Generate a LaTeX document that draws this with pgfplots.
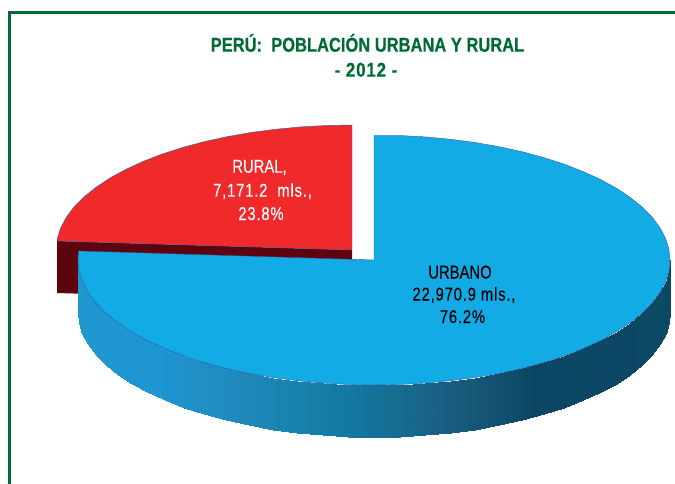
\documentclass[border=0pt]{standalone}
\usepackage{pgfplots}
\pgfplotsset{compat=1.18}
\usepackage{fontspec}
\setmainfont[FakeStretch=0.80,FakeBold=0.25]{Liberation Sans}
\newfontfamily\numf[FakeStretch=0.80,LetterSpace=4.5,FakeBold=0.25]{Liberation Sans}
\newfontfamily\titlef[FakeStretch=0.825,FakeBold=0.4]{Liberation Sans}
\newfontfamily\yearf[FakeStretch=0.85,LetterSpace=4,FakeBold=0.4]{Liberation Sans}
\definecolor{frameg}{HTML}{006B33}
\definecolor{ruralc}{HTML}{F02A2B}
\definecolor{ruraldark}{HTML}{5E040E}
\definecolor{urbanc}{HTML}{13ABE5}
\definecolor{edgec}{HTML}{2C5CA8}
\begin{document}
\begin{tikzpicture}
\useasboundingbox (0,0) rectangle (675pt,484pt);
\begin{axis}[
  at={(0,0)}, anchor=south west,
  scale only axis, width=675pt, height=484pt,
  xmin=0, xmax=675, ymin=0, ymax=484, y dir=reverse,
  hide axis, clip=true,
  colormap={sidemap}{rgb255(78pt)=(31,151,208); rgb255(159pt)=(30,150,210); rgb255(238pt)=(32,137,187); rgb255(345pt)=(18,122,162); rgb255(455pt)=(26,92,126); rgb255(534pt)=(11,71,100); rgb255(670pt)=(12,73,101)},
  point meta min=78, point meta max=670,
]
% frame
\addplot[draw=frameg, line width=2.5pt, no marks] coordinates {(9.7,490) (9.7,12.7) (680,12.7)};
% rural side
\addplot[fill=ruraldark, draw=none, no marks] coordinates {(57,241) (352,250) (352,302) (57,293)} -- cycle;
% rural top
\addplot[fill=ruralc, draw=edgec, line width=0.4pt, no marks] coordinates {
(352,250) (57,241) (57.1,239.1) (60.5,228.3) (66.1,217.6) (73.8,207.2) (83.7,197.2) (95.7,187.5) (109.5,178.3) (125.3,169.6) (142.7,161.6) (161.7,154.2) (182.2,147.6) (204,141.7) (226.9,136.7) (250.8,132.5) (275.4,129.3) (300.6,126.9) (326.2,125.5) (352,125)} -- cycle;
% urban side (two rows: upper and lower rim)
\addplot[surf, shader=interp, mesh/rows=2, mesh/cols=37, point meta=x] coordinates {
(78,260) (79.1,270.9) (82.5,281.7) (88.1,292.4) (95.8,302.8) (105.7,312.8) (117.7,322.5) (131.5,331.7) (147.3,340.4) (164.7,348.4) (183.7,355.8) (204.2,362.4) (226,368.3) (248.9,373.3) (272.8,377.5) (297.4,380.7) (322.6,383.1) (348.2,384.5) (374,385) (399.8,384.5) (425.4,383.1) (450.6,380.7) (475.2,377.5) (499.1,373.3) (522,368.3) (543.8,362.4) (564.3,355.8) (583.3,348.4) (600.7,340.4) (616.5,331.7) (630.3,322.5) (642.3,312.8) (652.2,302.8) (659.9,292.4) (665.5,281.7) (668.9,270.9) (670,260)

(78,312) (79.1,322.9) (82.5,333.7) (88.1,344.4) (95.8,354.8) (105.7,364.8) (117.7,374.5) (131.5,383.7) (147.3,392.4) (164.7,400.4) (183.7,407.8) (204.2,414.4) (226,420.3) (248.9,425.3) (272.8,429.5) (297.4,432.7) (322.6,435.1) (348.2,436.5) (374,437) (399.8,436.5) (425.4,435.1) (450.6,432.7) (475.2,429.5) (499.1,425.3) (522,420.3) (543.8,414.4) (564.3,407.8) (583.3,400.4) (600.7,392.4) (616.5,383.7) (630.3,374.5) (642.3,364.8) (652.2,354.8) (659.9,344.4) (665.5,333.7) (668.9,322.9) (670,312)
};
% urban top
\addplot[fill=urbanc, draw=edgec, line width=0.4pt, no marks] coordinates {
(374,260) (78.5,251) (78,260) (79.1,270.9) (82.5,281.7) (88.1,292.4) (95.8,302.8) (105.7,312.8) (117.7,322.5) (131.5,331.7) (147.3,340.4) (164.7,348.4) (183.7,355.8) (204.2,362.4) (226,368.3) (248.9,373.3) (272.8,377.5) (297.4,380.7) (322.6,383.1) (348.2,384.5) (374,385) (399.8,384.5) (425.4,383.1) (450.6,380.7) (475.2,377.5) (499.1,373.3) (522,368.3) (543.8,362.4) (564.3,355.8) (583.3,348.4) (600.7,340.4) (616.5,331.7) (630.3,322.5) (642.3,312.8) (652.2,302.8) (659.9,292.4) (665.5,281.7) (668.9,270.9) (670,260) (668.9,249.1) (665.5,238.3) (659.9,227.6) (652.2,217.2) (642.3,207.2) (630.3,197.5) (616.5,188.3) (600.7,179.6) (583.3,171.6) (564.3,164.2) (543.8,157.6) (522,151.7) (499.1,146.7) (475.2,142.5) (450.6,139.3) (425.4,136.9) (399.8,135.5) (374,135.5)} -- cycle;
% title
\node[text=frameg, font=\titlef\fontsize{20}{20}\selectfont\bfseries, anchor=base] at (axis cs:367.5,51.7) {PERÚ:~~POBLACIÓN URBANA Y RURAL};
\node[text=frameg, font=\yearf\fontsize{20}{20}\selectfont\bfseries, anchor=base] at (axis cs:366,76.7) {- 2012 -};
% labels
\node[text=white, font=\fontsize{18.5}{18.5}\selectfont, anchor=base] at (axis cs:259.5,172.7) {RURAL,};
\node[text=white, font=\numf\fontsize{18.5}{18.5}\selectfont, anchor=base] at (axis cs:262.5,196.7) {7,171.2~~mls.,};
\node[text=white, font=\numf\fontsize{18.5}{18.5}\selectfont, anchor=base] at (axis cs:261,220) {23.8\%};
\node[text=black, font=\fontsize{18.5}{18.5}\selectfont, anchor=base] at (axis cs:460,278.5) {URBANO};
\node[text=black, font=\numf\fontsize{18.5}{18.5}\selectfont, anchor=base] at (axis cs:464,300.5) {22,970.9 mls.,};
\node[text=black, font=\numf\fontsize{18.5}{18.5}\selectfont, anchor=base] at (axis cs:462.5,323) {76.2\%};
\end{axis}
\end{tikzpicture}
\end{document}
